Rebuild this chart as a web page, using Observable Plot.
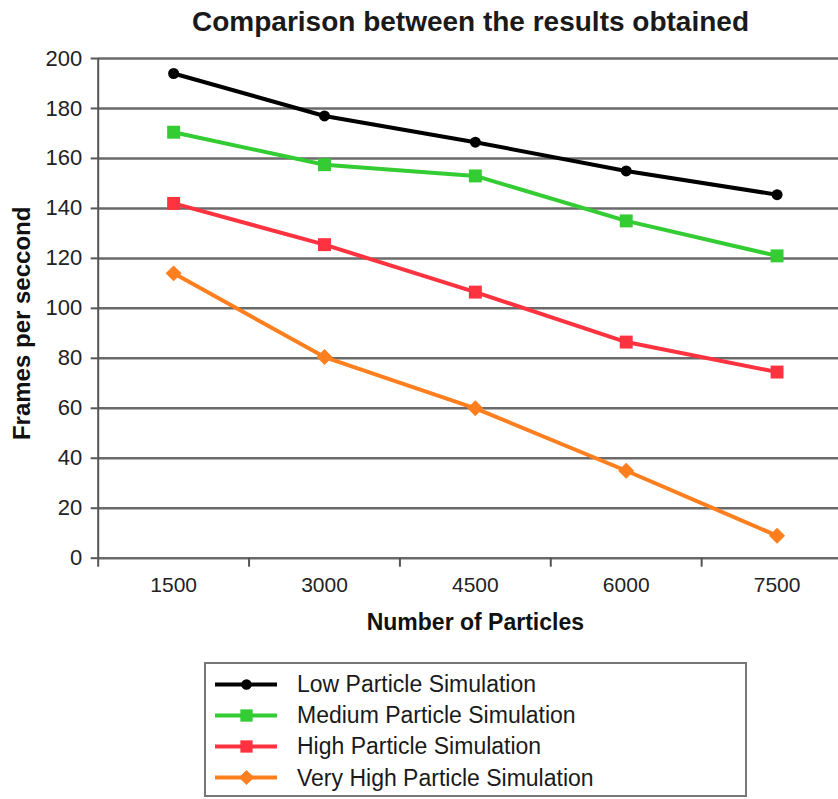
<!DOCTYPE html>
<html>
<head>
<meta charset="utf-8">
<script src="https://cdn.jsdelivr.net/npm/d3@7"></script>
<script src="https://cdn.jsdelivr.net/npm/@observablehq/plot@0.6"></script>
<style>
  html, body { margin: 0; padding: 0; background: #fff; overflow: hidden; }
  body { width: 838px; height: 799px; position: relative; font-family: "Liberation Sans", Arial, sans-serif; color: #1a1a1a; }
  #title { position: absolute; left: 102px; width: 737px; top: 8px; text-align: center; font-size: 28px; line-height: 28px; font-weight: bold; white-space: nowrap; }
  #chart { position: absolute; left: 0; top: 40px; }
  #legendBox { position: absolute; left: 204px; top: 662px; width: 543px; height: 135px; box-sizing: border-box; border: 2px solid #777; }
  .lrow { position: absolute; left: 215px; width: 520px; height: 31px; line-height: 31px; font-size: 23px; white-space: nowrap; }
  .lrow svg { position: absolute; left: 0; max-width: none !important; }
  .lrow span { position: absolute; left: 82px; top: 0; }
</style>
</head>
<body>
<div id="title">Comparison between the results obtained</div>
<div id="chart"></div>
<div id="legendBox"></div>
<div id="legend"></div>
<script>
const categories = [1500, 3000, 4500, 6000, 7500];
const seriesNames = ["Low Particle Simulation", "Medium Particle Simulation", "High Particle Simulation", "Very High Particle Simulation"];
const lowValues = [194, 177, 166.5, 155, 145.5];
const mediumValues = [170.5, 157.5, 153, 135, 121];
const highValues = [142, 125.5, 106.5, 86.5, 74.5];
const veryHighValues = [114, 80.5, 60, 35, 9];
const yTicks = [0, 20, 40, 60, 80, 100, 120, 140, 160, 180, 200];
const xLabel = "Number of Particles";
const yLabel = "Frames per seccond";

const colors = ["#000000", "#33cc33", "#ff3340", "#ff7f1f"];
const symbols = ["circle", "square", "square", "diamond2"];
const radii = [5.5, 7.3, 7.3, 7.2];

const allValues = [lowValues, mediumValues, highValues, veryHighValues];
const rows = [];
seriesNames.forEach((s, i) => {
  categories.forEach((c, j) => rows.push({series: s, x: c, y: allValues[i][j]}));
});

const step = categories[1] - categories[0];
const xMin = categories[0] - step / 2;
const xMax = categories[categories.length - 1] + step / 2;
const boundaries = d3.range(xMin, xMax + step / 2, step);

const marks = [
  Plot.ruleY(yTicks, {stroke: "#6a6a6a", strokeWidth: 2.5}),
  Plot.ruleX([xMin], {stroke: "#555", strokeWidth: 2}),
  Plot.axisY(yTicks, {tickSize: 7, tickPadding: 9, fontSize: 22, label: null, stroke: "#555", strokeWidth: 2, fill: "#222"}),
  Plot.axisX(categories, {tickSize: 0, tickPadding: 19, fontSize: 21, label: null, fill: "#222", tickFormat: d => String(d)}),
  Plot.axisX(boundaries, {tickSize: 9, tickFormat: () => "", label: null, stroke: "#555", strokeWidth: 2}),
  Plot.text([yLabel], {frameAnchor: "left", textAnchor: "middle", rotate: -90, dx: -76, dy: 15, fontSize: 24, fontWeight: "bold", fill: "#111"}),
  Plot.text([xLabel], {x: () => d3.mean(categories), frameAnchor: "bottom", textAnchor: "middle", lineAnchor: "top", dy: 55.3, fontSize: 23, fontWeight: "bold", fill: "#111"})
];
seriesNames.forEach((s, i) => {
  const d = rows.filter(r => r.series === s);
  marks.push(Plot.line(d, {x: "x", y: "y", stroke: colors[i], strokeWidth: 4}));
});
seriesNames.forEach((s, i) => {
  const d = rows.filter(r => r.series === s);
  marks.push(Plot.dot(d, {x: "x", y: "y", symbol: symbols[i], fill: colors[i], r: radii[i], stroke: "none"}));
});

const chart = Plot.plot({
  width: 838,
  height: 600,
  marginTop: 18,
  marginBottom: 82.3,
  marginLeft: 97.7,
  marginRight: 0,
  x: {type: "linear", domain: [xMin, xMax], range: [97.7, 852]},
  y: {domain: [0, 200]},
  style: {fontFamily: "'Liberation Sans', Arial, sans-serif", color: "#222", background: "white", overflow: "hidden"},
  marks
});
document.getElementById("chart").appendChild(chart);

// Legend
const legend = document.getElementById("legend");
seriesNames.forEach((s, i) => {
  const top = 669 + i * 31.2;
  const row = document.createElement("div");
  row.className = "lrow";
  row.style.top = top + "px";
  const sw = Plot.plot({
    width: 62, height: 20, margin: 0,
    x: {domain: [0, 2], axis: null},
    y: {domain: [0, 1], axis: null},
    marks: [
      Plot.ruleY([0.5], {stroke: colors[i], strokeWidth: 4}),
      Plot.dot([1], {x: d => d, y: () => 0.5, symbol: symbols[i], fill: colors[i], r: radii[i] * 0.95, stroke: "none"})
    ]
  });
  sw.style.top = (14.5 - 10) + "px";
  sw.style.width = "62px";
  sw.style.height = "20px";
  row.appendChild(sw);
  const span = document.createElement("span");
  span.textContent = s;
  row.appendChild(span);
  legend.appendChild(row);
});
</script>
</body>
</html>
